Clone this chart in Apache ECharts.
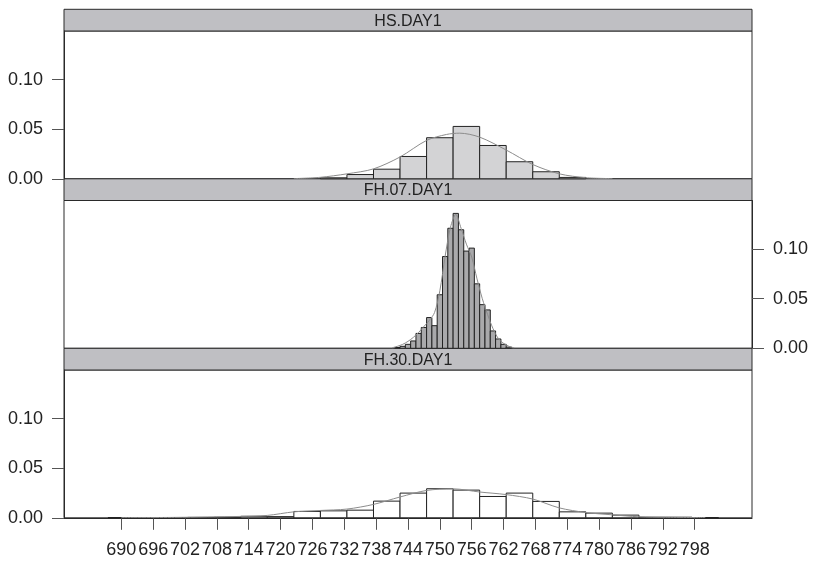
<!DOCTYPE html>
<html>
<head>
<meta charset="utf-8">
<script src="https://cdn.jsdelivr.net/npm/echarts@6/dist/echarts.min.js"></script>
<style>
  html, body { margin: 0; padding: 0; background: #fff; }
  #chart { width: 815px; height: 561px; }
</style>
</head>
<body>
<div id="chart"></div>
<script>
// panel titles (top to bottom)
var panelNames = ['HS.DAY1', 'FH.07.DAY1', 'FH.30.DAY1']

// HS.DAY1 histogram: bin mids (width 5) and densities
var hsMids = [730, 735, 740, 745, 750, 755, 760, 765, 770, 775]
var hsDensity = [0.001, 0.0043, 0.0097, 0.0225, 0.0414, 0.0528, 0.0336, 0.0172, 0.0071, 0.0014]
var hsCurveX = [722.5, 727.5, 732.5, 737.5, 742.5, 747.5, 751.25, 753.75, 757.5, 762.5, 767.5, 772.5, 777.5, 782.5]
var hsCurveY = [0.0002, 0.0015, 0.005, 0.010, 0.022, 0.0387, 0.0447, 0.046, 0.042, 0.029, 0.0144, 0.005, 0.0011, 0.0002]

// FH.07.DAY1 histogram: bin mids (width 1) and densities
var fh07Mids = [742, 743, 744, 745, 746, 747, 748, 749, 750, 751, 752, 753, 754, 755, 756, 757, 758, 759, 760, 761, 762, 763]
var fh07Density = [0.0008, 0.002, 0.004, 0.0074, 0.015, 0.021, 0.031, 0.0228, 0.054, 0.0925, 0.121, 0.136, 0.1195, 0.098, 0.101, 0.065, 0.044, 0.0387, 0.0175, 0.0094, 0.004, 0.0012]
var fh07CurveX = [741, 742, 743, 744, 745, 746, 747, 748, 749, 750, 751, 752, 753, 754, 755, 756, 757, 758, 759, 760, 761, 762, 763, 764]
var fh07CurveY = [0.0005, 0.002, 0.004, 0.007, 0.011, 0.016, 0.022, 0.028, 0.036, 0.058, 0.093, 0.122, 0.135, 0.121, 0.105, 0.092, 0.070, 0.050, 0.034, 0.020, 0.010, 0.005, 0.002, 0.0005]

// FH.30.DAY1 histogram: bin mids (width 5) and densities
var fh30Mids = [690, 695, 700, 705, 710, 715, 720, 725, 730, 735, 740, 745, 750, 755, 760, 765, 770, 775, 780, 785, 790, 795, 800]
var fh30Density = [0.0002, 0.0002, 0.0003, 0.0004, 0.0006, 0.0015, 0.0012, 0.0064, 0.007, 0.0077, 0.0168, 0.0249, 0.0293, 0.0279, 0.0215, 0.0249, 0.0165, 0.006, 0.0047, 0.0027, 0.0006, 0.0006, 0.0002]
var fh30CurveX = [690, 700, 712.5, 717.5, 722.5, 727.5, 732.5, 737.5, 742.5, 747.5, 752.5, 757.5, 762.5, 767.5, 772.5, 777.5, 782.5, 787.5, 792.5, 800]
var fh30CurveY = [0.0002, 0.0004, 0.0014, 0.0024, 0.006, 0.0074, 0.0088, 0.0135, 0.021, 0.0276, 0.0292, 0.026, 0.0234, 0.0189, 0.010, 0.0053, 0.003, 0.001, 0.0005, 0.0002]

// tick labels
var xTicks = [690, 696, 702, 708, 714, 720, 726, 732, 738, 744, 750, 756, 762, 768, 774, 780, 786, 792, 798]
var yTicks = [0, 0.05, 0.10]

var LEFT = 64, WIDTH = 688, STRIP = 21.7, BODY = 147.8, TOP0 = 9.3
var FONT = '"Liberation Sans", Arial, sans-serif'

var chart = echarts.init(document.getElementById('chart'), null, { renderer: 'canvas' })

function zipPairs(xs, ys) {
    return xs.map(function (x, i) { return [x, ys[i]] })
}

function histItem(binWidth, fill) {
    return function (params, api) {
        var mid = api.value(0)
        var d = api.value(1)
        var p0 = api.coord([mid - binWidth / 2, d])
        var p1 = api.coord([mid + binWidth / 2, 0])
        return {
            type: 'rect',
            shape: { x: p0[0], y: p0[1], width: p1[0] - p0[0], height: p1[1] - p0[1] },
            style: { fill: fill, stroke: '#222', lineWidth: 1 }
        }
    }
}

var grids = [], xAxes = [], yAxes = [], graphics = []
panelNames.forEach(function (name, i) {
    var stripTop = TOP0 + i * (STRIP + BODY)
    grids.push({
        left: LEFT, width: WIDTH, top: stripTop + STRIP, height: BODY,
        show: true, borderColor: '#2a2a2a', borderWidth: 1, backgroundColor: '#fff'
    })
    xAxes.push({
        gridIndex: i, type: 'value', min: 679.2, max: 808.8,
        show: i === 2,
        splitLine: { show: false },
        axisLine: { show: true, lineStyle: { color: '#2a2a2a' } },
        axisTick: { show: true, length: 12, customValues: xTicks, lineStyle: { color: '#555' } },
        axisLabel: {
            customValues: xTicks, margin: 23,
            fontSize: 18, fontFamily: FONT, color: '#222'
        }
    })
    yAxes.push({
        gridIndex: i, type: 'value', min: 0, max: 0.149,
        position: i === 1 ? 'right' : 'left',
        splitLine: { show: false },
        axisLine: { show: true, lineStyle: { color: '#2a2a2a' } },
        axisTick: { show: true, length: 12, customValues: yTicks, lineStyle: { color: '#555' } },
        axisLabel: {
            customValues: yTicks, margin: 21,
            fontSize: 18, fontFamily: FONT, color: '#222',
            formatter: function (v) { return v.toFixed(2) }
        }
    })
    graphics.push({
        type: 'group',
        children: [{
            type: 'rect',
            shape: { x: LEFT, y: stripTop, width: WIDTH, height: STRIP },
            style: { fill: '#bfbfc3', stroke: '#2a2a2a', lineWidth: 1 }
        }, {
            type: 'text',
            style: {
                text: name, x: LEFT + WIDTH / 2, y: stripTop + STRIP / 2 + 1,
                align: 'center', verticalAlign: 'middle',
                font: '16px ' + FONT, fill: '#222'
            }
        }]
    })
})

var curveStyle = { color: '#8c8c8c', width: 1 }
var panels = [
    { mids: hsMids, dens: hsDensity, w: 5, fill: '#d3d3d5', cx: hsCurveX, cy: hsCurveY },
    { mids: fh07Mids, dens: fh07Density, w: 1, fill: '#a9a9ab', cx: fh07CurveX, cy: fh07CurveY },
    { mids: fh30Mids, dens: fh30Density, w: 5, fill: '#ffffff', cx: fh30CurveX, cy: fh30CurveY }
]
var series = []
panels.forEach(function (p, i) {
    series.push({
        type: 'custom', xAxisIndex: i, yAxisIndex: i,
        renderItem: histItem(p.w, p.fill),
        encode: { x: 0, y: 1 },
        data: zipPairs(p.mids, p.dens),
        silent: true
    })
    series.push({
        type: 'line', xAxisIndex: i, yAxisIndex: i,
        data: zipPairs(p.cx, p.cy),
        smooth: 0.3, showSymbol: false, symbol: 'none',
        lineStyle: curveStyle, z: 3, silent: true
    })
})

chart.setOption({
    animation: false,
    backgroundColor: '#fff',
    grid: grids,
    xAxis: xAxes,
    yAxis: yAxes,
    graphic: graphics,
    series: series
})
</script>
</body>
</html>
